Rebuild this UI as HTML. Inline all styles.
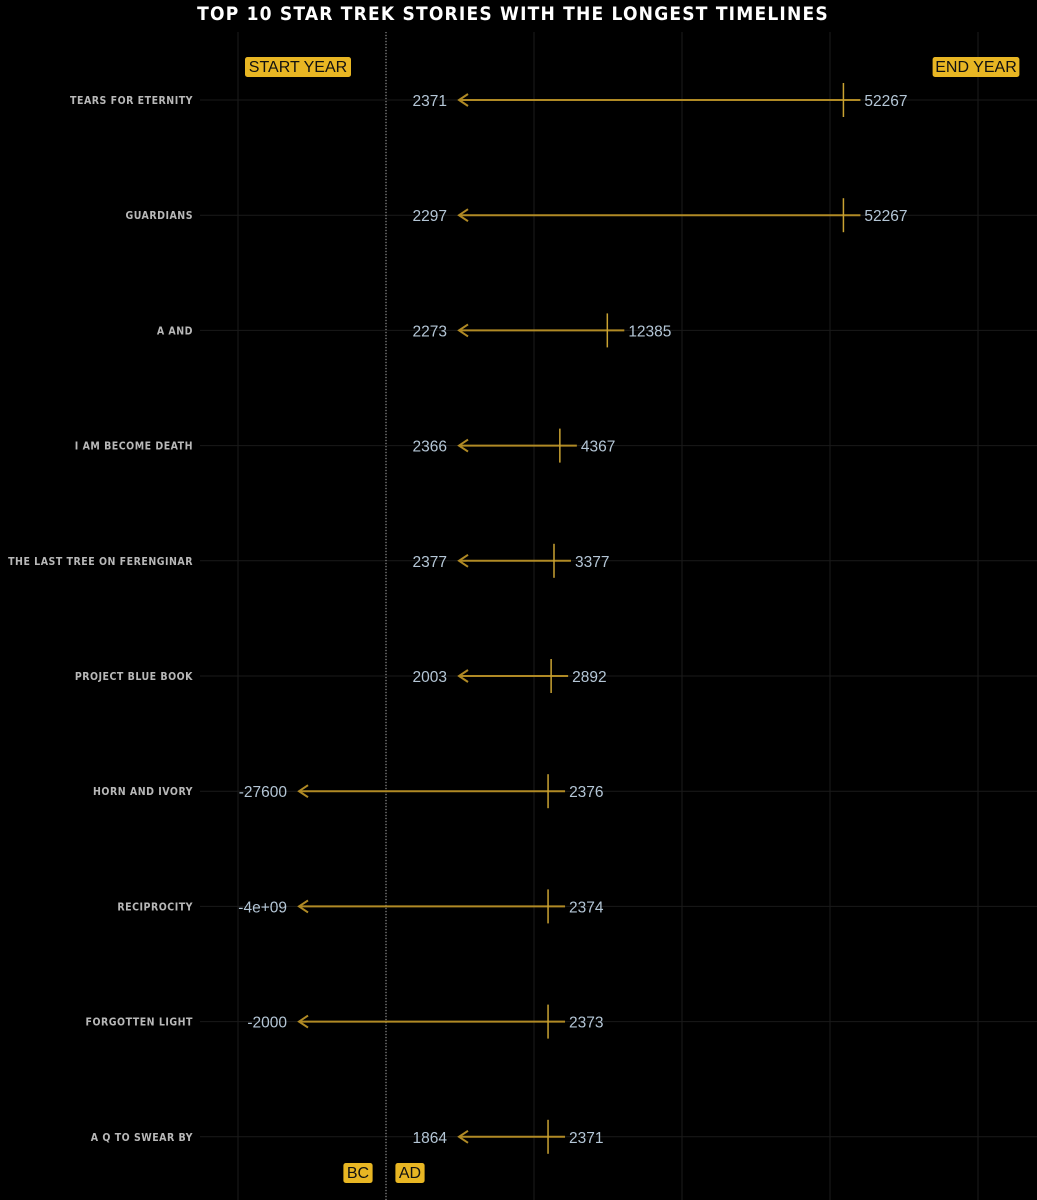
<!DOCTYPE html>
<html><head><meta charset="utf-8"><style>
html,body{margin:0;padding:0;background:#000;}
svg{display:block;}
</style></head><body>
<svg id="chart" width="1037" height="1200" xmlns="http://www.w3.org/2000/svg">
<rect width="1037" height="1200" fill="#000"/>
<text x="513" y="20" text-anchor="middle" fill="#fff" font-family="'DejaVu Sans Condensed','Liberation Sans',sans-serif" font-weight="bold" font-size="19" letter-spacing="1.2">TOP 10 STAR TREK STORIES WITH THE LONGEST TIMELINES</text>
<g id="grid"></g>
<g id="marks"></g>
</svg>
<script>
const stories = ["TEARS FOR ETERNITY","GUARDIANS","A AND","I AM BECOME DEATH","THE LAST TREE ON FERENGINAR","PROJECT BLUE BOOK","HORN AND IVORY","RECIPROCITY","FORGOTTEN LIGHT","A Q TO SWEAR BY"];
const startYears = [2371,2297,2273,2366,2377,2003,-27600,-4e9,-2000,1864];
const startLabels = ["2371","2297","2273","2366","2377","2003","-27600","-4e+09","-2000","1864"];
const endYears = [52267,52267,12385,4367,3377,2892,2376,2374,2373,2371];
const gridYears = [-50000,-25000,0,25000,50000,75000];

const NS="http://www.w3.org/2000/svg";
const x0=534, pxPerYear=148/25000;
const xScale=y=>x0+y*pxPerYear;
const yScale=i=>100+i*115.2;
const xAD=458, xBC=298;
const grid=document.getElementById('grid'), marks=document.getElementById('marks');
function mk(tag,attrs,parent){const e=document.createElementNS(NS,tag);for(const k in attrs)e.setAttribute(k,attrs[k]);parent.appendChild(e);return e;}

gridYears.forEach(g=>{
  const l=mk('line',{x1:xScale(g),x2:xScale(g),y1:32,y2:1200,stroke:'#1c1c1c','stroke-width':1},grid);
  
  
});
stories.forEach((s,i)=>{
  const l=mk('line',{x1:200,x2:1037,y1:yScale(i),y2:yScale(i),stroke:'#1a1a1a','stroke-width':1},grid);
  
  
});
const ad=mk('line',{x1:386,x2:386,y1:32,y2:1200,stroke:'#aaa','stroke-width':1,'stroke-dasharray':'1 2'},grid);



function badge(x,y,txt,name){
  const g=mk('g',{},marks);
  
  
  const t=mk('text',{x:x,y:y,'font-family':"'Liberation Sans',sans-serif",'font-size':16,fill:'#111','text-anchor':'middle'},g);
  t.textContent=txt;
  const w=txt.length*9.6+10;
  const r=mk('rect',{x:x-w/2,y:y-15,width:w,height:20,rx:2.5,fill:'#e8b623'},g);
  g.insertBefore(r,t);
}
badge(298,72,'START YEAR','start-year-badge');
badge(976,72,'END YEAR','end-year-badge');
badge(358,1178,'BC','bc-badge');
badge(410,1178,'AD','ad-badge');

stories.forEach((s,i)=>{
  const y=yScale(i);
  const lab=mk('text',{x:193,y:y+4,'text-anchor':'end',fill:'#b8b8b8','font-family':"'DejaVu Sans Condensed','Liberation Sans',sans-serif",'font-weight':'bold','font-size':10.5,'letter-spacing':0.5},marks);
  lab.textContent=s;
  
  
  const xe=xScale(endYears[i]);
  const xs=startYears[i]>=0?xAD:xBC;
  const line=mk('line',{x1:xe+17,x2:xs+2,y1:y,y2:y,stroke:'#b08a25','stroke-width':2},marks);
  
  
  const head=mk('polyline',{points:`${xs+10},${y-6} ${xs+1},${y} ${xs+10},${y+6}`,fill:'none',stroke:'#b08a25','stroke-width':2},marks);
  
  
  const tick=mk('line',{x1:xe,x2:xe,y1:y-17,y2:y+17,stroke:'#c9a232','stroke-width':1.5},marks);
  
  
  const st=mk('text',{x:xs-11,y:y+6,'text-anchor':'end',fill:'#b4c6d6','font-family':"'Liberation Sans',sans-serif",'font-size':15.5},marks);
  st.textContent=startLabels[i];
  
  
  const en=mk('text',{x:xe+21,y:y+6,'text-anchor':'start',fill:'#b4c6d6','font-family':"'Liberation Sans',sans-serif",'font-size':15.5},marks);
  en.textContent=String(endYears[i]);
  
  
});
</script>
</body></html>
